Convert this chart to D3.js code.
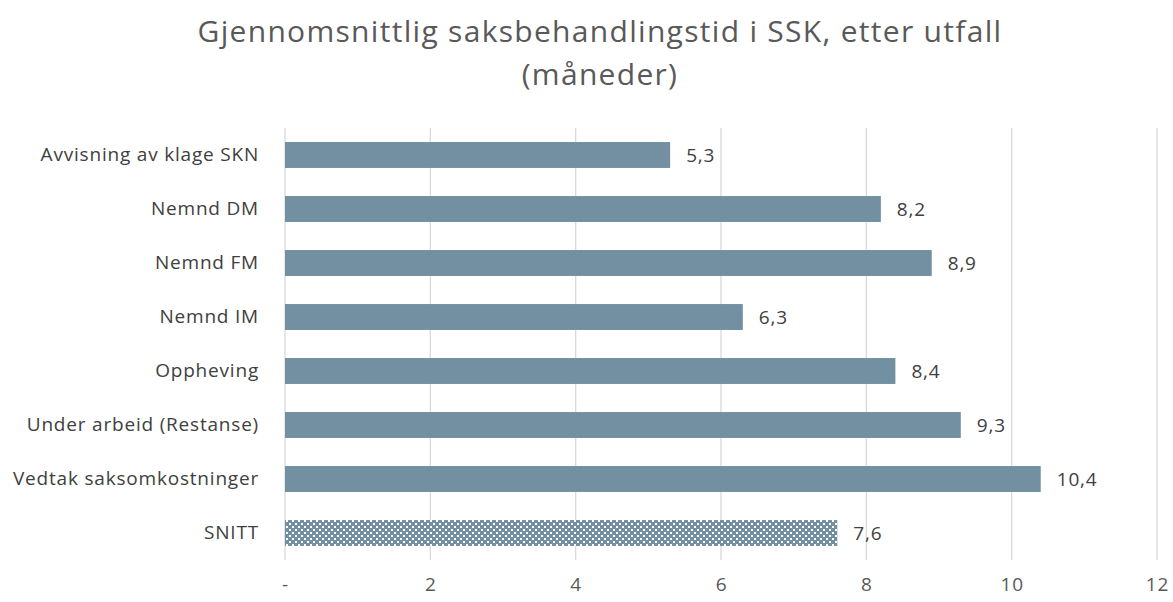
<!DOCTYPE html>
<meta charset="utf-8">
<style>
body { margin: 0; background: #fff; font-family: "Open Sans", Lato, sans-serif; }
.axis text { font-size: 19px; fill: #595959; font-family: "Open Sans", sans-serif; letter-spacing: 0.8px; }
.grid line { stroke: #d9d9d9; stroke-width: 1.3; }
</style>
<body>
<script src="https://cdn.jsdelivr.net/npm/d3@7"></script>
<script>

var categories = ["Avvisning av klage SKN", "Nemnd DM", "Nemnd FM", "Nemnd IM", "Oppheving",
                  "Under arbeid (Restanse)", "Vedtak saksomkostninger", "SNITT"];
var values = [5.3, 8.2, 8.9, 6.3, 8.4, 9.3, 10.4, 7.6];
var xTicks = [0, 2, 4, 6, 8, 10, 12];

var width = 1173, height = 602;
var margin = {top: 128, right: 16, bottom: 42, left: 285};

var svg = d3.select("body").append("svg")
    .attr("width", width)
    .attr("height", height);

// dotted fill for the average bar
var defs = svg.append("defs");
var pat = defs.append("pattern")
    .attr("id", "dots")
    .attr("patternUnits", "userSpaceOnUse")
    .attr("width", 6)
    .attr("height", 6);
pat.append("rect").attr("width", 6).attr("height", 6).attr("fill", "#7390a3");
pat.append("rect").attr("x", 1).attr("y", 1).attr("width", 2).attr("height", 2).attr("fill", "#fff");
pat.append("rect").attr("x", 4).attr("y", 4).attr("width", 2).attr("height", 2).attr("fill", "#fff");

var x = d3.scaleLinear()
    .domain([0, 12])
    .range([margin.left, width - margin.right]);

var y = d3.scaleBand()
    .domain(categories)
    .range([margin.top, height - margin.bottom])
    .paddingInner(0.52)
    .paddingOuter(0.26);

svg.append("g")
    .attr("class", "grid")
    .selectAll("line")
    .data(xTicks)
  .enter().append("line")
    .attr("x1", d => x(d))
    .attr("x2", d => x(d))
    .attr("y1", margin.top)
    .attr("y2", height - margin.bottom);

svg.selectAll(".bar")
    .data(values)
  .enter().append("rect")
    .attr("class", "bar")
    .attr("x", x(0))
    .attr("y", (d, i) => y(categories[i]))
    .attr("width", d => x(d) - x(0))
    .attr("height", y.bandwidth())
    .attr("fill", (d, i) => categories[i] === "SNITT" ? "url(#dots)" : "#7390a3");

svg.selectAll(".val")
    .data(values)
  .enter().append("text")
    .attr("class", "val")
    .attr("x", d => x(d) + 16)
    .attr("y", (d, i) => y(categories[i]) + y.bandwidth() / 2)
    .attr("dy", "0.35em")
    .style("font-size", "19px")
    .style("letter-spacing", "0.8px")
    .style("fill", "#404040")
    .text(d => d3.format(".1f")(d).replace(".", ","));

var xAxis = d3.axisBottom(x)
    .tickValues(xTicks)
    .tickSize(0)
    .tickPadding(0)
    .tickFormat(d => d === 0 ? "-" : d);

svg.append("g")
    .attr("class", "axis")
    .attr("transform", "translate(0," + (height - margin.bottom + 17) + ")")
    .call(xAxis)
    .call(g => g.select(".domain").remove());

var yAxis = d3.axisLeft(y)
    .tickSize(0)
    .tickPadding(26);

svg.append("g")
    .attr("class", "axis")
    .attr("transform", "translate(" + margin.left + ",0)")
    .call(yAxis)
    .call(g => g.select(".domain").remove())
    .selectAll("text").style("fill", "#404040");

var title = svg.append("text")
    .attr("x", 600)
    .attr("y", 42)
    .attr("text-anchor", "middle")
    .style("font-size", "30px")
    .style("letter-spacing", "1.3px")
    .style("fill", "#595959");
title.append("tspan").attr("x", 600).text("Gjennomsnittlig saksbehandlingstid i SSK, etter utfall");
title.append("tspan").attr("x", 600).attr("dy", 43).text("(måneder)");

</script>
</body>
</html>
